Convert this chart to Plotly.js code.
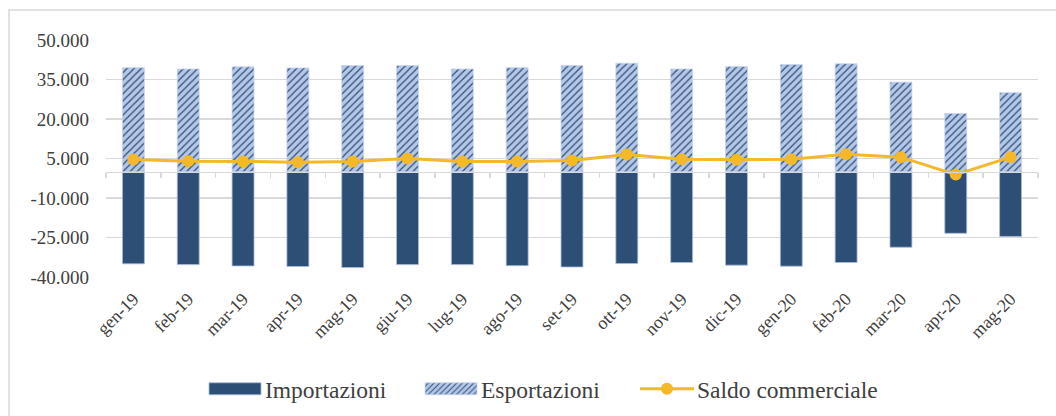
<!DOCTYPE html>
<html>
<head>
<meta charset="utf-8">
<script src="https://cdn.plot.ly/plotly-3.0.1.min.js"></script>
<style>html,body{margin:0;padding:0;background:#fff;}#chart{width:1056px;height:416px;}</style>
</head>
<body>
<div id="chart"></div>
<script>
const months = ["gen-19","feb-19","mar-19","apr-19","mag-19","giu-19","lug-19","ago-19","set-19","ott-19","nov-19","dic-19","gen-20","feb-20","mar-20","apr-20","mag-20"];
const importazioni = [-35000,-35300,-35800,-36000,-36400,-35300,-35300,-35700,-36200,-34900,-34500,-35500,-35900,-34500,-28700,-23400,-24600];
const esportazioni = [39500,39000,39800,39400,40300,40300,39000,39500,40300,41200,39000,39900,40700,41000,34000,22100,30000];
const saldo = [4600,4000,3900,3600,3900,5000,3900,3900,4200,6500,4700,4500,4700,6600,5500,-1100,5500];
const yTickVals = [-40000,-25000,-10000,5000,20000,35000,50000];
const yTickText = ["-40.000","-25.000","-10.000","5.000","20.000","35.000","50.000"];

const serif = "Liberation Serif, Times New Roman, serif";
const txt = "#404040";

const traces = [
  {type:"bar", name:"Importazioni", x:months, y:importazioni,
   marker:{color:"#2d4e75", line:{color:"#a9bcd8", width:0.8}}},
  {type:"bar", name:"Esportazioni", x:months, y:esportazioni,
   marker:{color:"#b4c7e7", line:{color:"#c9d6ee", width:0.8},
     pattern:{shape:"/", bgcolor:"#b4c7e7", fgcolor:"#2f4f7a", size:5, solidity:0.25}}},
  {type:"scatter", mode:"lines+markers", name:"Saldo commerciale", x:months, y:saldo,
   xaxis:"x2", line:{color:"#f4b828", width:3}, marker:{color:"#f4b828", size:12}}
];

const plotL = 106, plotW = 932, plotT = 40, plotH = 237;
const layout = {
  width:1056, height:416,
  margin:{l:plotL, r:1056-plotL-plotW, t:plotT, b:416-plotT-plotH, autoexpand:false},
  paper_bgcolor:"#fff", plot_bgcolor:"#fff",
  barmode:"relative", bargap:0.6,
  showlegend:true,
  font:{family:serif, color:txt},
  xaxis:{type:"category", range:[-0.5,16.5], showgrid:false, showline:false, zeroline:false,
    ticks:"", tickangle:-45, ticklabelstandoff:7, tickfont:{family:serif, size:18, color:txt}},
  xaxis2:{type:"category", overlaying:"x", anchor:"free", position:0.4444, range:[-0.5,16.5],
    showgrid:false, zeroline:false, showline:true, linecolor:"#d9d9d9", linewidth:1.5,
    ticks:"outside", tickson:"boundaries", ticklen:5, tickcolor:"#d9d9d9", tickwidth:1.5,
    showticklabels:false},
  yaxis:{range:[-40000,50000], tickmode:"array", tickvals:yTickVals, ticktext:yTickText,
    showgrid:true, gridcolor:"#d9d9d9", gridwidth:1.5, zeroline:false, showline:false,
    ticks:"", ticklabelstandoff:16, tickfont:{family:serif, size:19, color:txt}},
  legend:{orientation:"h", x:(205-plotL)/plotW, xanchor:"left", y:(plotT+plotH-389)/plotH, yanchor:"middle",
    font:{family:serif, size:23.5, color:txt}, itemwidth:50, entrywidth:151, traceorder:"normal",
    bgcolor:"rgba(0,0,0,0)"},
  shapes:[{type:"rect", xref:"paper", yref:"paper",
    x0:(9-plotL)/plotW, x1:(1070-plotL)/plotW, y0:(plotT+plotH-430)/plotH, y1:1+(plotT-10)/plotH,
    line:{color:"#d9d9d9", width:1.5}, fillcolor:"rgba(0,0,0,0)", layer:"below"}]
};

function fixLegend(gd){
  gd.querySelectorAll("g.legend [clip-path]").forEach(function(el){ el.removeAttribute("clip-path"); });
  gd.querySelectorAll("g.legend g.legendpoints path").forEach(function(p){
    const d = p.getAttribute("d") || "";
    if (/^M6,6H-6V-6H6Z/.test(d)) p.setAttribute("d","M26,6H-26V-6H26Z");
  });
  gd.querySelectorAll("g.legend g.legendlines path").forEach(function(p){
    const item = p.closest("g.traces");
    let cx = 30;
    const pts = item ? item.querySelector("g.legendpoints path") : null;
    if (pts) {
      const t = pts.getAttribute("transform") || "";
      const m = /translate\(([-\d.]+)/.exec(t);
      if (m) cx = parseFloat(m[1]);
    }
    p.setAttribute("d","M"+(cx-27)+",0h54");
  });
}

Plotly.newPlot("chart", traces, layout, {displayModeBar:false, staticPlot:true}).then(function(gd){
  fixLegend(gd);
  setTimeout(function(){ fixLegend(gd); }, 50);
});
</script>
</body>
</html>
